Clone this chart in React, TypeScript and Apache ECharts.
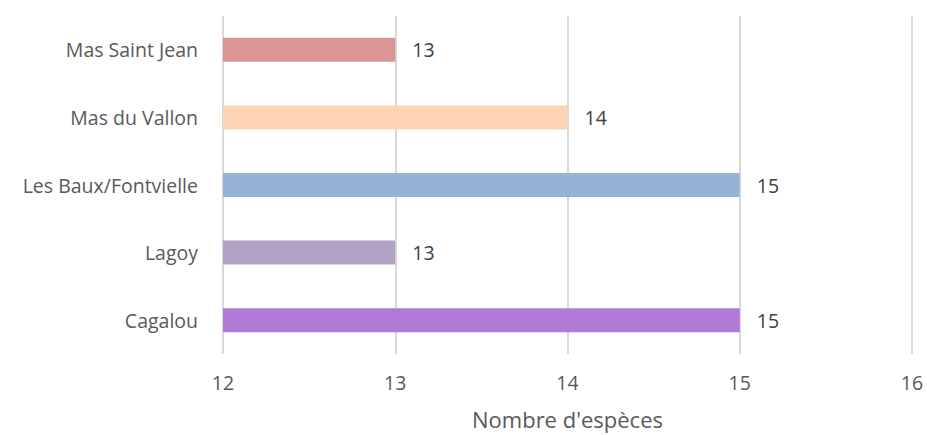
import React, { useEffect, useRef } from "react";
import * as echarts from "echarts";

const categories = ["Cagalou", "Lagoy", "Les Baux/Fontvielle", "Mas du Vallon", "Mas Saint Jean"];
const values = [15, 13, 15, 14, 13];
const colors = ["#B07AD6", "#B3A2C7", "#95B3D7", "#FCD5B5", "#D99694"];
const xTicks = [12, 13, 14, 15, 16];
const axisTitle = "Nombre d'espèces";

export default function App() {
  const ref = useRef<HTMLDivElement>(null);
  useEffect(() => {
    if (!ref.current) return;
    const chart = echarts.init(ref.current, null, { renderer: "svg" });
    const font = "'Open Sans', Lato, sans-serif";
    chart.setOption({
      animation: false,
      grid: { left: 223, right: 15, top: 16, bottom: 81, containLabel: false },
      xAxis: {
        type: "value",
        min: xTicks[0],
        max: xTicks[xTicks.length - 1],
        interval: 1,
        name: axisTitle,
        nameLocation: "middle",
        nameGap: 54,
        nameTextStyle: { color: "#595959", fontSize: 22, fontFamily: font },
        axisLine: { show: false },
        axisTick: { show: false },
        axisLabel: { color: "#595959", fontSize: 19.5, fontFamily: font, margin: 18 },
        splitLine: { show: true, lineStyle: { color: "#D9D9D9", width: 2 } },
      },
      yAxis: {
        type: "category",
        data: categories,
        axisLine: { show: false },
        axisTick: { show: false },
        axisLabel: { color: "#595959", fontSize: 19.5, fontFamily: font, margin: 25 },
        splitLine: { show: false },
      },
      series: [
        {
          type: "bar",
          data: values.map((v, i) => ({ value: v, itemStyle: { color: colors[i] } })),
          barWidth: 24,
          label: {
            show: true,
            position: "right",
            distance: 17,
            color: "#404040",
            fontSize: 19.5,
            fontFamily: font,
          },
        },
      ],
    });
    return () => chart.dispose();
  }, []);
  return (
    <div
      ref={ref}
      style={{ position: "absolute", left: 0, top: 0, width: 927, height: 435 }}
    />
  );
}
